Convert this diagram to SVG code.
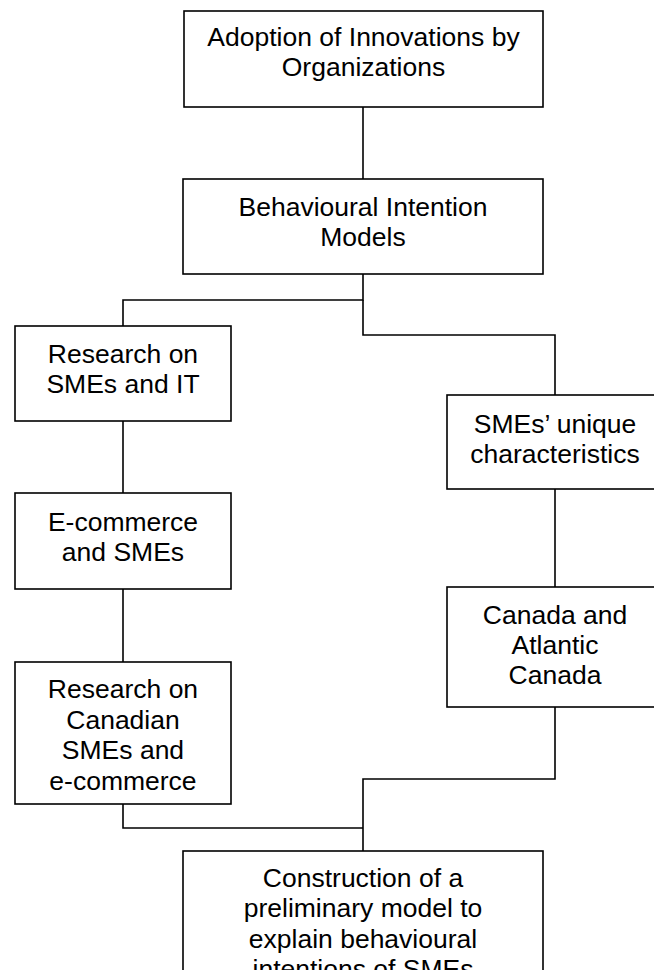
<svg xmlns="http://www.w3.org/2000/svg" width="654" height="970" viewBox="0 0 654 970">
<style>
.box{fill:#fff;stroke:#000;stroke-width:1.6}
.conn{fill:none;stroke:#000;stroke-width:1.6}
text{font-family:"Liberation Sans",Arial,sans-serif;font-size:26.5px;fill:#000;text-anchor:middle}
</style>
<rect width="654" height="970" fill="#fff"/>
<g id="connectors">
<path class="conn" d="M363,107 V179"/>
<path class="conn" d="M363,274 V300 H123 V326"/>
<path class="conn" d="M363,300 V335 H555 V395"/>
<path class="conn" d="M123,421 V493"/>
<path class="conn" d="M123,589 V662"/>
<path class="conn" d="M555,489 V587"/>
<path class="conn" d="M123,804 V828 H363"/>
<path class="conn" d="M555,707 V779 H363 V851"/>
</g>
<g id="adoption">
<rect class="box" x="184" y="11" width="359" height="96"/>
<text x="363.5" y="46">Adoption of Innovations by</text>
<text x="363.5" y="76">Organizations</text>
</g>
<g id="behavioural">
<rect class="box" x="183" y="179" width="360" height="95"/>
<text x="363" y="216">Behavioural Intention</text>
<text x="363" y="246">Models</text>
</g>
<g id="research-smes-it">
<rect class="box" x="15" y="326" width="216" height="95"/>
<text x="123" y="363">Research on</text>
<text x="123" y="393">SMEs and IT</text>
</g>
<g id="ecommerce-smes">
<rect class="box" x="15" y="493" width="216" height="96"/>
<text x="123" y="531">E-commerce</text>
<text x="123" y="561">and SMEs</text>
</g>
<g id="research-canadian">
<rect class="box" x="15" y="662" width="216" height="142"/>
<text x="123" y="698">Research on</text>
<text x="123" y="729">Canadian</text>
<text x="123" y="759">SMEs and</text>
<text x="123" y="790">e-commerce</text>
</g>
<g id="smes-unique">
<rect class="box" x="447" y="395" width="216" height="94"/>
<text x="555" y="433">SMEs’ unique</text>
<text x="555" y="463">characteristics</text>
</g>
<g id="canada">
<rect class="box" x="447" y="587" width="216" height="120"/>
<text x="555" y="624">Canada and</text>
<text x="555" y="654">Atlantic</text>
<text x="555" y="684">Canada</text>
</g>
<g id="construction">
<rect class="box" x="183" y="851" width="360" height="140"/>
<text x="363" y="887">Construction of a</text>
<text x="363" y="917">preliminary model to</text>
<text x="363" y="948">explain behavioural</text>
<text x="363" y="978">intentions of SMEs</text>
</g>
</svg>
